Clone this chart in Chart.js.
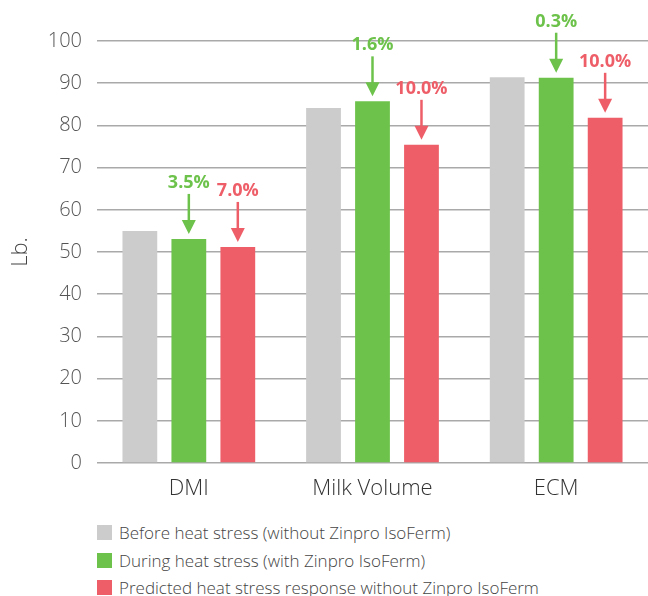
<!DOCTYPE html>
<html>
<head>
<meta charset="utf-8">
<script src="https://cdn.jsdelivr.net/npm/chart.js@4.4.1/dist/chart.umd.min.js"></script>
<style>
  html, body { margin: 0; padding: 0; background: #fff; }
  body { width: 648px; height: 596px; overflow: hidden; font-family: "Open Sans", sans-serif; }
  #wrap { position: relative; width: 648px; height: 510px; }
  #legend { list-style: none; margin: 9px 0 0 0; padding: 0 0 0 97px; }
  #legend li { display: flex; align-items: center; height: 27.5px; font-size: 17px; color: #444; font-weight: 300; white-space: nowrap; }
  #legend span.box { display: inline-block; width: 15px; height: 15px; margin-right: 7px; }
</style>
</head>
<body>
<div id="wrap"><canvas id="heatChart"></canvas></div>
<ul id="legend"></ul>
<script>
const categories = ["DMI", "Milk Volume", "ECM"];
const seriesNames = [
    "Before heat stress (without Zinpro IsoFerm)",
    "During heat stress (with Zinpro IsoFerm)",
    "Predicted heat stress response without Zinpro IsoFerm"
];
const beforeValues = [55, 84.1, 91.4];
const duringValues = [53.1, 85.7, 91.3];
const predictedValues = [51.2, 75.4, 81.8];
const duringLabels = ["3.5%", "1.6%", "0.3%"];
const predictedLabels = ["7.0%", "10.0%", "10.0%"];
const yTicks = [0, 10, 20, 30, 40, 50, 60, 70, 80, 90, 100];

const GRAY = '#cccccc';
const GREEN = '#6cc24a';
const RED = '#ee5e68';

// arrows + percentage labels above green and red bars
const arrowPlugin = {
    id: 'arrowLabels',
    afterDatasetsDraw(chart) {
        const ctx = chart.ctx;
        const sets = [
            { index: 1, labels: duringLabels, color: GREEN },
            { index: 2, labels: predictedLabels, color: RED }
        ];
        sets.forEach(s => {
            const meta = chart.getDatasetMeta(s.index);
            meta.data.forEach((bar, i) => {
                const x = bar.x;
                const top = bar.y;
                const tip = top - 5;
                const lineStart = top - 45;
                ctx.save();
                ctx.strokeStyle = s.color;
                ctx.fillStyle = s.color;
                ctx.lineWidth = 2.5;
                ctx.beginPath();
                ctx.moveTo(x, lineStart);
                ctx.lineTo(x, tip - 12);
                ctx.stroke();
                ctx.beginPath();
                ctx.moveTo(x - 7, tip - 14);
                ctx.lineTo(x + 7, tip - 14);
                ctx.lineTo(x, tip);
                ctx.closePath();
                ctx.fill();
                ctx.font = 'bold 18px "Open Sans", sans-serif';
                ctx.textAlign = 'center';
                ctx.textBaseline = 'middle';
                ctx.fillText(s.labels[i], x, top - 56);
                ctx.restore();
            });
        });
    }
};

const chart = new Chart(document.getElementById('heatChart'), {
    type: 'bar',
    data: {
        labels: categories,
        datasets: [
            { label: seriesNames[0], data: beforeValues, backgroundColor: GRAY },
            { label: seriesNames[1], data: duringValues, backgroundColor: GREEN },
            { label: seriesNames[2], data: predictedValues, backgroundColor: RED }
        ]
    },
    options: {
        responsive: true,
        maintainAspectRatio: false,
        animation: false,
        layout: { padding: { top: 41, right: 0, bottom: 0, left: 0 } },
        datasets: { bar: { categoryPercentage: 0.8, barPercentage: 0.71 } },
        scales: {
            x: {
                grid: { display: false },
                border: { display: false },
                ticks: { color: '#333', font: { family: 'Open Sans', size: 22, weight: 300 }, padding: 5 },
                afterFit(scale) { scale.height = 47; }
            },
            y: {
                min: 0,
                max: 100,
                afterBuildTicks(scale) { scale.ticks = yTicks.map(v => ({ value: v })); },
                grid: { color: '#a9a9a9', lineWidth: 1.5, drawTicks: false },
                border: { display: false },
                ticks: { color: '#555', font: { family: 'Open Sans', size: 20, weight: 300 }, padding: 15 },
                title: { display: true, text: 'Lb.', color: '#444', font: { family: 'Open Sans', size: 22, weight: 300 }, padding: { top: 8, bottom: 0 } },
                afterFit(scale) { scale.width = 97; }
            }
        },
        plugins: {
            legend: { display: false },
            tooltip: { enabled: false }
        }
    },
    plugins: [arrowPlugin]
});

// HTML legend from the datasets
const legendEl = document.getElementById('legend');
chart.data.datasets.forEach(ds => {
    const li = document.createElement('li');
    li.innerHTML = `<span class="box" style="background:${ds.backgroundColor}"></span>${ds.label}`;
    legendEl.appendChild(li);
});
</script>
</body>
</html>
